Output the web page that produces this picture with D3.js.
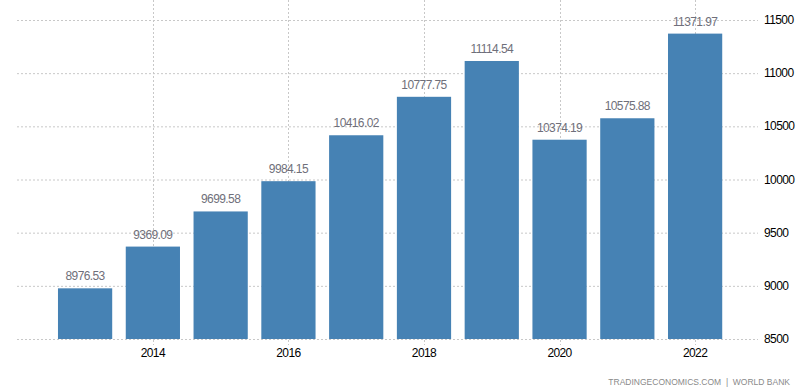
<!DOCTYPE html>
<html>
<head>
<meta charset="utf-8">
<script src="https://cdn.jsdelivr.net/npm/d3@7"></script>
<style>
  body { margin: 0; background: #fff; }
  svg text { font-family: "Liberation Sans", Arial, sans-serif; }
</style>
</head>
<body>
<div id="chart"></div>
<script>
// data
const years = [2013, 2014, 2015, 2016, 2017, 2018, 2019, 2020, 2021, 2022];
const values = [8976.53, 9369.09, 9699.58, 9984.15, 10416.02, 10777.75, 11114.54, 10374.19, 10575.88, 11371.97];
const xTickYears = [2014, 2016, 2018, 2020, 2022];
const yTicks = [8500, 9000, 9500, 10000, 10500, 11000, 11500];

const width = 805, height = 391;
const plot = {left: 17, right: 748, top: 20, bottom: 339};

const svg = d3.select("#chart").append("svg")
    .attr("width", width)
    .attr("height", height);

const x = d3.scaleBand()
    .domain(years)
    .range([51.2, 729])
    .paddingInner(0.2)
    .paddingOuter(0.1);

const y = d3.scaleLinear()
    .domain([8500, 11500])
    .range([plot.bottom, plot.top]);

// horizontal grid
svg.append("g").selectAll("line")
    .data(yTicks)
    .join("line")
    .attr("x1", plot.left)
    .attr("x2", plot.right + 10)
    .attr("y1", d => y(d) + 0.5)
    .attr("y2", d => y(d) + 0.5)
    .attr("stroke", "#c8c8c8")
    .attr("stroke-dasharray", "2,2");

// vertical grid
svg.append("g").selectAll("line")
    .data(xTickYears)
    .join("line")
    .attr("x1", d => Math.round(x(d) + x.bandwidth() / 2) + 0.5)
    .attr("x2", d => Math.round(x(d) + x.bandwidth() / 2) + 0.5)
    .attr("y1", 0)
    .attr("y2", plot.bottom + 6)
    .attr("stroke", "#c8c8c8")
    .attr("stroke-dasharray", "2,2");

// bars
svg.append("g").selectAll("rect")
    .data(years)
    .join("rect")
    .attr("x", d => x(d))
    .attr("width", x.bandwidth())
    .attr("y", (d, i) => y(values[i]))
    .attr("height", (d, i) => plot.bottom - y(values[i]))
    .attr("fill", "#4682b4");

// value labels
svg.append("g").selectAll("text")
    .data(years)
    .join("text")
    .attr("x", d => x(d) + x.bandwidth() / 2)
    .attr("y", (d, i) => y(values[i]) - 8)
    .attr("text-anchor", "middle")
    .attr("font-size", 12)
    .attr("letter-spacing", -0.6)
    .attr("fill", "#6f6f7a")
    .text((d, i) => values[i].toFixed(2));

// x axis labels
svg.append("g").selectAll("text")
    .data(xTickYears)
    .join("text")
    .attr("x", d => x(d) + x.bandwidth() / 2)
    .attr("y", plot.bottom + 18)
    .attr("text-anchor", "middle")
    .attr("font-size", 12)
    .attr("letter-spacing", -0.6)
    .attr("fill", "#000")
    .text(d => d);

// y axis labels on the right
svg.append("g").selectAll("text")
    .data(yTicks)
    .join("text")
    .attr("x", 764)
    .attr("y", d => y(d) + 4)
    .attr("font-size", 12)
    .attr("letter-spacing", -0.6)
    .attr("fill", "#000")
    .text(d => d);

// source
svg.append("text")
    .attr("x", 790)
    .attr("y", 385)
    .attr("text-anchor", "end")
    .attr("font-size", 8.5)
    .attr("fill", "#8a8a8a")
    .style("white-space", "pre")
    .text("TRADINGECONOMICS.COM  |  WORLD BANK");
</script>
</body>
</html>
